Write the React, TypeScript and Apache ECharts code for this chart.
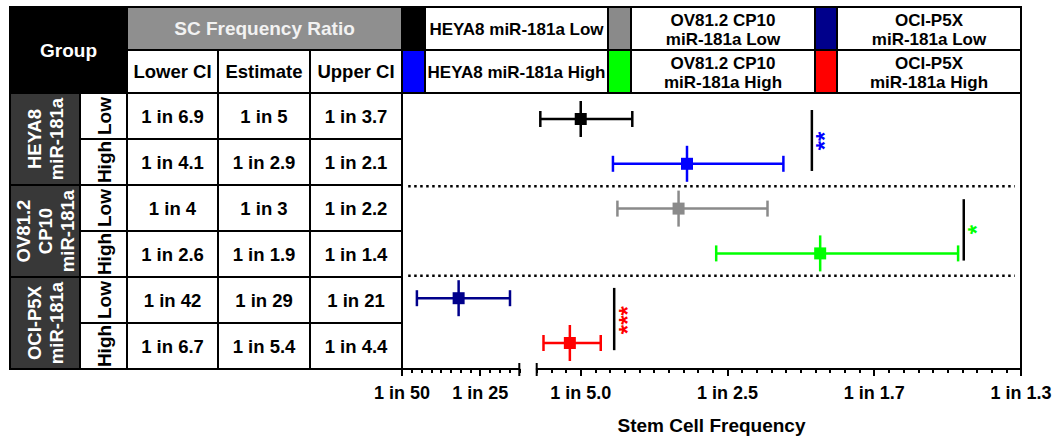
import React, { useEffect, useRef } from "react";
import * as echarts from "echarts";

// ---------- data ----------
const groupLabels = ["HEYA8\nmiR-181a", "OV81.2\nCP10\nmiR-181a", "OCI-P5X\nmiR-181a"];
const levelLabels = ["Low", "High", "Low", "High", "Low", "High"];
const seriesNames = [
  "HEYA8 miR-181a Low",
  "HEYA8 miR-181a High",
  "OV81.2 CP10\nmiR-181a Low",
  "OV81.2 CP10\nmiR-181a High",
  "OCI-P5X\nmiR-181a Low",
  "OCI-P5X\nmiR-181a High",
];
const seriesColors = ["#000000", "#0000ff", "#8a8a8a", "#00ff00", "#00008b", "#ff0000"];
// "1 in N" denominators
const lowerCI = [6.9, 4.1, 4, 2.6, 42, 6.7];
const estimate = [5, 2.9, 3, 1.9, 29, 5.4];
const upperCI = [3.7, 2.1, 2.2, 1.4, 21, 4.4];

const leftRange = [0.02, 0.05];
const rightRange = [0.14, 0.8];
const leftTicks = [0.02, 0.04];
const leftTickLabels = ["1 in 50", "1 in 25"];
const rightTicks = [0.2, 0.4, 0.6, 0.8];
const rightTickLabels = ["1 in 5.0", "1 in 2.5", "1 in 1.7", "1 in 1.3"];

// significance annotations
const sigX = [0.515, 0.722, 0.2456];
const sigFrom = [0.3, 2.29, 4.27];
const sigTo = [1.66, 3.66, 5.66];
const sigTextY = [0.99, 2.97, 4.99];
const sigStars = ["**", "*", "***"];
const sigColors = ["#0000ff", "#00ff00", "#ff0000"];
const dividerRows = [2, 4];

const FONT = '"Liberation Sans", Arial, Helvetica, sans-serif';

// ---------- layout ----------
const X0 = 10, XG = 80, XL = 127, XC1 = 218, XC2 = 310, XP = 402, XR = 1021;
const Y0 = 7, YH = 50, YB = 93, RH = 46, YE = 369;
const Y_MIN = -0.08, Y_MAX = 6.08;

function rect(x: number, y: number, w: number, h: number, fill: string) {
  return {
    type: "rect",
    silent: true,
    shape: { x, y, width: w, height: h },
    style: { fill, stroke: "#000", lineWidth: 2 },
  };
}
function text(x: number, y: number, str: string, size: number, color = "#000", rotation = 0, lineHeight?: number) {
  return {
    type: "text",
    silent: true,
    x,
    y,
    rotation,
    z: 10,
    style: {
      text: str,
      fill: color,
      fontSize: size,
      fontWeight: "bold",
      fontFamily: FONT,
      align: "center",
      verticalAlign: "middle",
      lineHeight: lineHeight ?? Math.round(size * 1.2),
    },
  };
}

function buildGraphic() {
  const els: any[] = [];
  // header
  els.push(rect(X0, Y0, XL - X0, YB - Y0, "#000"));
  els.push(text((X0 + XL) / 2, (Y0 + YB) / 2, "Group", 19, "#fff"));
  els.push(rect(XL, Y0, XP - XL, YH - Y0, "#8f8f8f"));
  els.push(text((XL + XP) / 2, (Y0 + YH) / 2, "SC Frequency Ratio", 19, "#f2f2f2"));
  const colX = [XL, XC1, XC2, XP];
  ["Lower CI", "Estimate", "Upper CI"].forEach((h, i) => {
    els.push(rect(colX[i], YH, colX[i + 1] - colX[i], YB - YH, "#fff"));
    els.push(text((colX[i] + colX[i + 1]) / 2, (YH + YB) / 2, h, 18.5));
  });
  // legend
  const swX = [402, 608, 815];
  const txX = [425, 631, 837];
  const txEnd = [608, 815, XR];
  seriesNames.forEach((name, i) => {
    const c = Math.floor(i / 2);
    const r = i % 2;
    const y = r === 0 ? Y0 : YH;
    const h = r === 0 ? YH - Y0 : YB - YH;
    els.push(rect(swX[c], y, txX[c] - swX[c], h, seriesColors[i]));
    els.push(rect(txX[c], y, txEnd[c] - txX[c], h, "#fff"));
    els.push(text((txX[c] + txEnd[c]) / 2, y + h / 2 + 1, name, 17, "#000", 0, 19));
  });
  // body
  groupLabels.forEach((g, gi) => {
    const y = YB + gi * 2 * RH;
    els.push(rect(X0, y, XG - X0, 2 * RH, "#383838"));
    els.push(text((X0 + XG) / 2, y + RH, g, 18.5, "#fff", Math.PI / 2, 22));
  });
  const fmt = (v: number) => "1 in " + v;
  levelLabels.forEach((lv, i) => {
    const y = YB + i * RH;
    els.push(rect(XG, y, XL - XG, RH, "#fff"));
    els.push(text((XG + XL) / 2 + 1, y + RH / 2, lv, 19, "#000", Math.PI / 2));
    const vals = [lowerCI[i], estimate[i], upperCI[i]];
    vals.forEach((v, k) => {
      els.push(rect(colX[k], y, colX[k + 1] - colX[k], RH, "#fff"));
      els.push(text((colX[k] + colX[k + 1]) / 2, y + RH / 2, fmt(v), 18.5));
    });
  });
  // axis title
  els.push(text((XP + XR) / 2, 425, "Stem Cell Frequency", 19));
  return els;
}

const rows = estimate.map((e, i) => ({
  value: [1 / lowerCI[i], 1 / e, 1 / upperCI[i], i + 0.5],
  itemStyle: { color: seriesColors[i] },
  name: seriesNames[i],
}));
const leftRows = rows.filter((r) => r.value[1] <= leftRange[1]);
const rightRows = rows.filter((r) => r.value[1] >= rightRange[0]);

function renderErrorBar(params: any, api: any) {
  const y = api.value(3);
  const lo = api.coord([api.value(0), y]);
  const est = api.coord([api.value(1), y]);
  const hi = api.coord([api.value(2), y]);
  const color = api.visual("color");
  const ls = { stroke: color, lineWidth: 2.5 };
  return {
    type: "group",
    children: [
      { type: "line", shape: { x1: lo[0], y1: lo[1], x2: hi[0], y2: hi[1] }, style: ls },
      { type: "line", shape: { x1: lo[0], y1: lo[1] - 8, x2: lo[0], y2: lo[1] + 8 }, style: ls },
      { type: "line", shape: { x1: hi[0], y1: hi[1] - 8, x2: hi[0], y2: hi[1] + 8 }, style: ls },
      { type: "line", shape: { x1: est[0], y1: est[1] - 18, x2: est[0], y2: est[1] + 18 }, style: ls },
      { type: "rect", shape: { x: est[0] - 6, y: est[1] - 6, width: 12, height: 12 }, style: { fill: color } },
    ],
  };
}

function renderSig(params: any, api: any) {
  const i = params.dataIndex;
  const a = api.coord([api.value(0), api.value(1)]);
  const b = api.coord([api.value(0), api.value(2)]);
  const t = api.coord([api.value(0), api.value(3)]);
  return {
    type: "group",
    children: [
      { type: "line", shape: { x1: a[0], y1: a[1], x2: b[0], y2: b[1] }, style: { stroke: "#000", lineWidth: 2.5 } },
      {
        type: "text",
        x: t[0] + 13,
        y: t[1],
        rotation: Math.PI / 2,
        style: {
          text: sigStars[i],
          fill: sigColors[i],
          fontSize: 24,
          fontWeight: "bold",
          fontFamily: FONT,
          align: "center",
          verticalAlign: "middle",
        },
      },
    ],
  };
}

function renderDivider(params: any, api: any) {
  const a = api.coord([0.01, api.value(0)]);
  const b = api.coord([0.99, api.value(0)]);
  return {
    type: "line",
    shape: { x1: a[0], y1: a[1], x2: b[0], y2: b[1] },
    style: { stroke: "#000", lineWidth: 2.5, lineDash: [2.5, 3.5] },
  };
}

function renderBreakCap(params: any, api: any) {
  const p = api.coord([api.value(0), Y_MAX]);
  return {
    type: "line",
    shape: { x1: p[0], y1: p[1] + 3 - 9, x2: p[0], y2: p[1] + 3 + 4 },
    style: { stroke: "#000", lineWidth: 2 },
  };
}

const axisLabelStyle = { color: "#000", fontSize: 18, fontWeight: "bold" as const, fontFamily: FONT, margin: 15 };

function labelFor(ticks: number[], labels: string[]) {
  return (v: number) => {
    const k = ticks.findIndex((t) => Math.abs(t - v) < 1e-6);
    return k >= 0 ? labels[k] : "";
  };
}

export default function App() {
  const ref = useRef<HTMLDivElement>(null);
  useEffect(() => {
    if (!ref.current) return;
    const chart = echarts.init(ref.current, undefined, { renderer: "svg" });
    const lineStyle = { color: "#000", width: 2 };
    const hiddenY = (gi: number) => ({
      gridIndex: gi, type: "value", min: Y_MIN, max: Y_MAX, inverse: true, show: false,
      axisLine: { onZero: false },
    });
    const option: any = {
      animation: false,
      backgroundColor: "#fff",
      grid: [
        { left: XP, top: YB, width: 519.3 - XP, height: YE - YB, outerBoundsMode: "none", containLabel: false },
        { left: 536.7, top: YB, width: XR - 536.7, height: YE - YB, outerBoundsMode: "none", containLabel: false },
        { left: XP, top: YB, width: XR - XP, height: YE - YB, outerBoundsMode: "none", containLabel: false },
      ],
      xAxis: [
        {
          gridIndex: 0, type: "value", min: leftRange[0], max: leftRange[1], position: "bottom",
          axisLine: { show: true, onZero: false, lineStyle },
          axisTick: { show: true, customValues: leftTicks, length: 7, lineStyle },
          axisLabel: { ...axisLabelStyle, customValues: leftTicks, formatter: labelFor(leftTicks, leftTickLabels) },
          splitLine: { show: false },
        },
        {
          gridIndex: 0, type: "value", min: leftRange[0], max: leftRange[1], interval: 0.0025, position: "bottom",
          axisLine: { show: false, onZero: false },
          axisTick: { show: true, length: 4, lineStyle },
          axisLabel: { show: false },
          splitLine: { show: false },
        },
        {
          gridIndex: 1, type: "value", min: rightRange[0], max: rightRange[1], position: "bottom",
          axisLine: { show: true, onZero: false, lineStyle },
          axisTick: { show: true, customValues: rightTicks, length: 7, lineStyle },
          axisLabel: { ...axisLabelStyle, customValues: rightTicks, formatter: labelFor(rightTicks, rightTickLabels) },
          splitLine: { show: false },
        },
        {
          gridIndex: 1, type: "value", min: rightRange[0], max: rightRange[1], interval: 0.02, position: "bottom",
          axisLine: { show: false, onZero: false },
          axisTick: { show: true, length: 4, lineStyle },
          axisLabel: { show: false },
          splitLine: { show: false },
        },
        {
          gridIndex: 2, type: "value", min: 0, max: 1, position: "top",
          axisLine: { show: true, onZero: false, lineStyle },
          axisTick: { show: false }, axisLabel: { show: false }, splitLine: { show: false },
        },
      ],
      yAxis: [
        hiddenY(0),
        hiddenY(1),
        {
          gridIndex: 2, type: "value", min: Y_MIN, max: Y_MAX, inverse: true, position: "left",
          axisLine: { show: true, onZero: false, lineStyle },
          axisTick: { show: false }, axisLabel: { show: false }, splitLine: { show: false },
        },
        {
          gridIndex: 2, type: "value", min: Y_MIN, max: Y_MAX, inverse: true, position: "right",
          axisLine: { show: true, onZero: false, lineStyle },
          axisTick: { show: false }, axisLabel: { show: false }, splitLine: { show: false },
        },
      ],
      series: [
        { type: "custom", name: "left", xAxisIndex: 0, yAxisIndex: 0, renderItem: renderErrorBar, data: leftRows, z: 5 },
        { type: "custom", name: "right", xAxisIndex: 2, yAxisIndex: 1, renderItem: renderErrorBar, data: rightRows, z: 5 },
        {
          type: "custom", name: "sig", xAxisIndex: 2, yAxisIndex: 1, renderItem: renderSig, z: 6,
          data: sigX.map((x, i) => [x, sigFrom[i], sigTo[i], sigTextY[i]]),
        },
        {
          type: "custom", name: "dividers", xAxisIndex: 4, yAxisIndex: 2, renderItem: renderDivider, z: 4,
          data: dividerRows.map((r) => [r]),
        },
        { type: "custom", name: "capL", xAxisIndex: 0, yAxisIndex: 0, renderItem: renderBreakCap, data: [[leftRange[1]]] },
        { type: "custom", name: "capR", xAxisIndex: 2, yAxisIndex: 1, renderItem: renderBreakCap, data: [[rightRange[0]]] },
      ],
      graphic: buildGraphic(),
    };
    chart.setOption(option);
    return () => chart.dispose();
  }, []);
  return (
    <div
      ref={ref}
      style={{ position: "fixed", left: 0, top: 0, width: 1059, height: 438, background: "#fff" }}
    />
  );
}
